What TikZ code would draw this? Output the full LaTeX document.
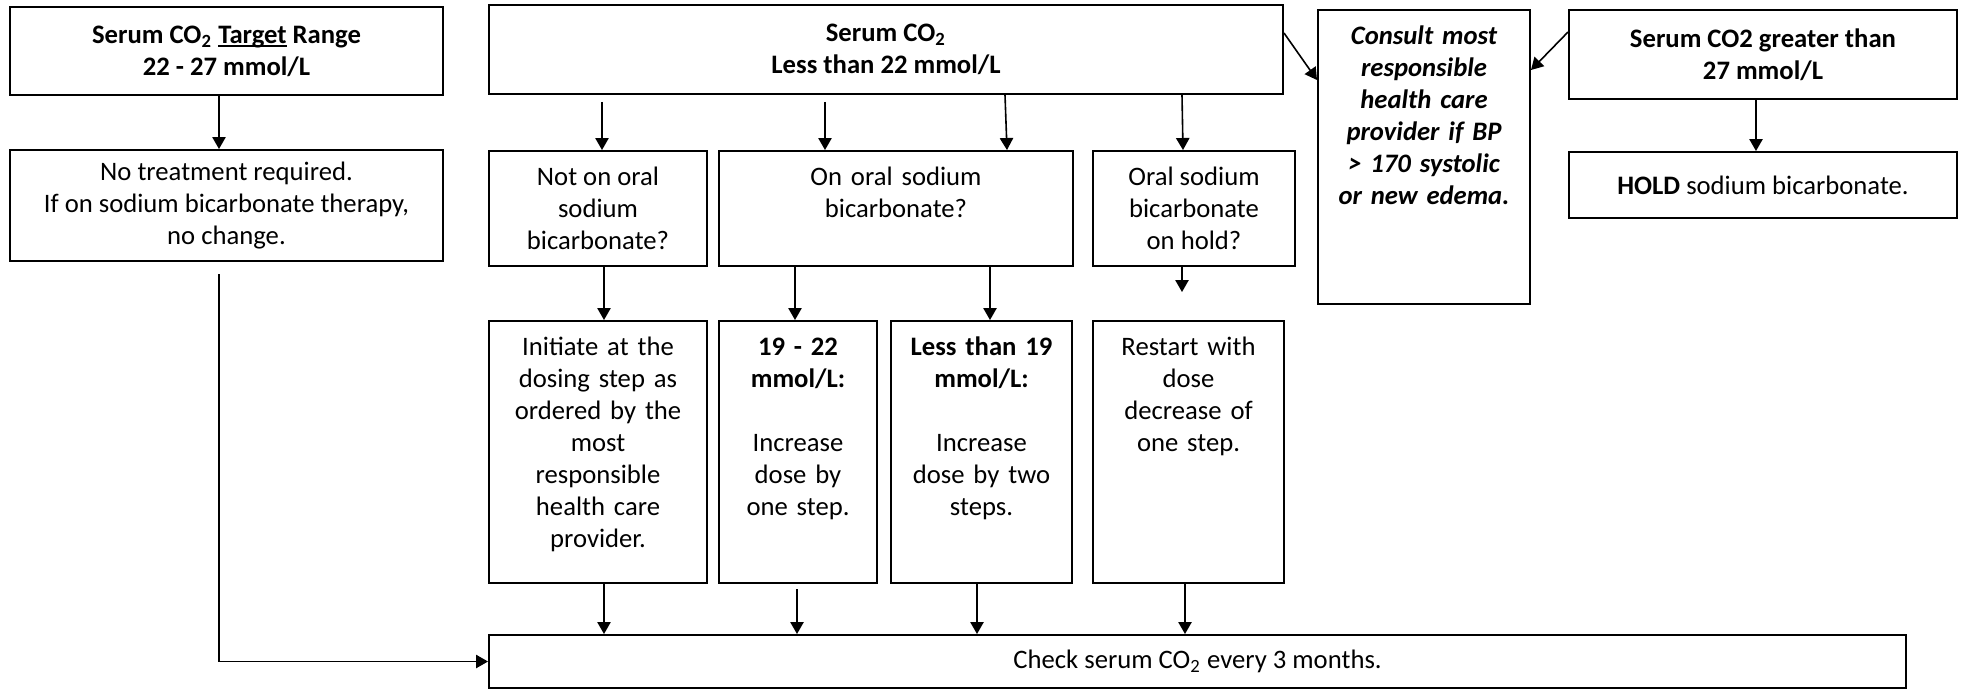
\documentclass[tikz,border=0pt]{standalone}
\usepackage{fontspec}
\setmainfont{Carlito}
\usetikzlibrary{arrows.meta}

\newcommand{\undl}[1]{\setbox0\hbox{#1}\rlap{\rule[-1.4pt]{\wd0}{0.6pt}}\box0\relax}

\tikzset{
  box/.style={draw, line width=0.75pt, anchor=north west, align=center,
    inner sep=0pt, font=\fontsize{10}{12}\selectfont},
  head/.style={box, font=\fontsize{10}{12}\selectfont\bfseries},
  topbox/.style={box, inner xsep=2pt, inner ysep=3.75pt, text height=9pt},
  arr/.style={-{Triangle[length=4.5pt,width=5pt]}, line width=0.6pt},
}

\begin{document}
\begin{tikzpicture}[x=0.375pt, y=-0.375pt]
    \useasboundingbox (0,0) rectangle (1961,688);
    % top row
    \node[head, minimum width=162.375pt, minimum height=33pt] (A) at (9,6)
      {Serum CO\textsubscript{2} \undl{Target} Range\\22 - 27 mmol/L};
    \node[head, minimum width=297.75pt, minimum height=33.375pt] (C) at (488,4)
      {Serum CO\textsubscript{2}\\Less than 22 mmol/L};
    \node[topbox, text width=75.5pt, text depth=93.75pt,
      font=\fontsize{10}{12}\selectfont\bfseries\itshape] (D) at (1317,9)
      {Consult most\\responsible\\health care\\provider if BP\\> 170 systolic\\or new edema.};
    \node[head, minimum width=145.5pt, minimum height=33.375pt] (E) at (1568,9)
      {Serum CO2 greater than\\27 mmol/L};
    % second row
    \node[box, minimum width=162.375pt, minimum height=41.625pt] (B) at (9,149)
      {No treatment required.\\If on sodium bicarbonate therapy,\\no change.};
    \node[box, minimum width=81.75pt, minimum height=43.125pt] (G) at (488,150)
      {Not on oral\\sodium\\bicarbonate?};
    \node[topbox, text width=128.75pt, text depth=26.625pt] (H) at (718,150)
      {On oral sodium\\bicarbonate?};
    \node[box, minimum width=75.75pt, minimum height=43.125pt] (I) at (1092,150)
      {Oral sodium\\bicarbonate\\on hold?};
    \node[box, minimum width=145.5pt, minimum height=24.75pt] (F) at (1568,151)
      {\textbf{HOLD} sodium bicarbonate.};
    % third row
    \node[topbox, text width=77.75pt, text depth=81.75pt] (J) at (488,320)
      {Initiate at the\\dosing step as\\ordered by the\\most\\responsible\\health care\\provider.};
    \node[topbox, text width=55.25pt, text depth=81.75pt] (K) at (718,320)
      {\textbf{19 - 22}\\\textbf{mmol/L:}\\[12pt]Increase\\dose by\\one step.};
    \node[topbox, text width=63.875pt, text depth=81.75pt] (L) at (890,320)
      {\textbf{Less than 19}\\\textbf{mmol/L:}\\[12pt]Increase\\dose by two\\steps.};
    \node[topbox, text width=67.625pt, text depth=81.75pt] (M) at (1092,320)
      {Restart with\\dose\\decrease of\\one step.};
    % bottom
    \node[box, minimum width=531.375pt, minimum height=19.875pt] (N) at (488,634)
      {Check serum CO\textsubscript{2} every 3 months.};

    % connectors
    \draw[arr] (A.south -| 219,0) -- (B.north -| 219,0);
    \draw[arr, shorten <=4.5pt] (B.south -| 219,0) |- (N.west);
    \draw[arr, shorten <=2.6pt] (C.south -| 602,0) -- (G.north -| 602,0);
    \draw[arr, shorten <=2.6pt] (C.south -| 825,0) -- (H.north -| 825,0);
    \draw[arr] (C.south -| 1005,0) -- (H.north -| 1007,0);
    \draw[arr] (C.south -| 1182,0) -- (I.north -| 1183,0);
    \draw[arr] (C.east |- 0,33) -- (D.west |- 0,80);
    \draw[arr] (E.west |- 0,32) -- (D.east |- 0,70);
    \draw[arr] (E.south -| 1756,0) -- (F.north -| 1756,0);
    \draw[arr] (G.south -| 604,0) -- (J.north -| 604,0);
    \draw[arr] (H.south -| 795,0) -- (K.north -| 795,0);
    \draw[arr] (H.south -| 990,0) -- (L.north -| 990,0);
    \draw[arr, shorten >=10.5pt] (I.south -| 1182,0) -- (M.north -| 1182,0);
    \draw[arr] (J.south -| 604,0) -- (N.north -| 604,0);
    \draw[arr, shorten <=1.9pt] (K.south -| 797,0) -- (N.north -| 797,0);
    \draw[arr] (L.south -| 977,0) -- (N.north -| 977,0);
    \draw[arr] (M.south -| 1185,0) -- (N.north -| 1185,0);
  \end{tikzpicture}
\end{document}
